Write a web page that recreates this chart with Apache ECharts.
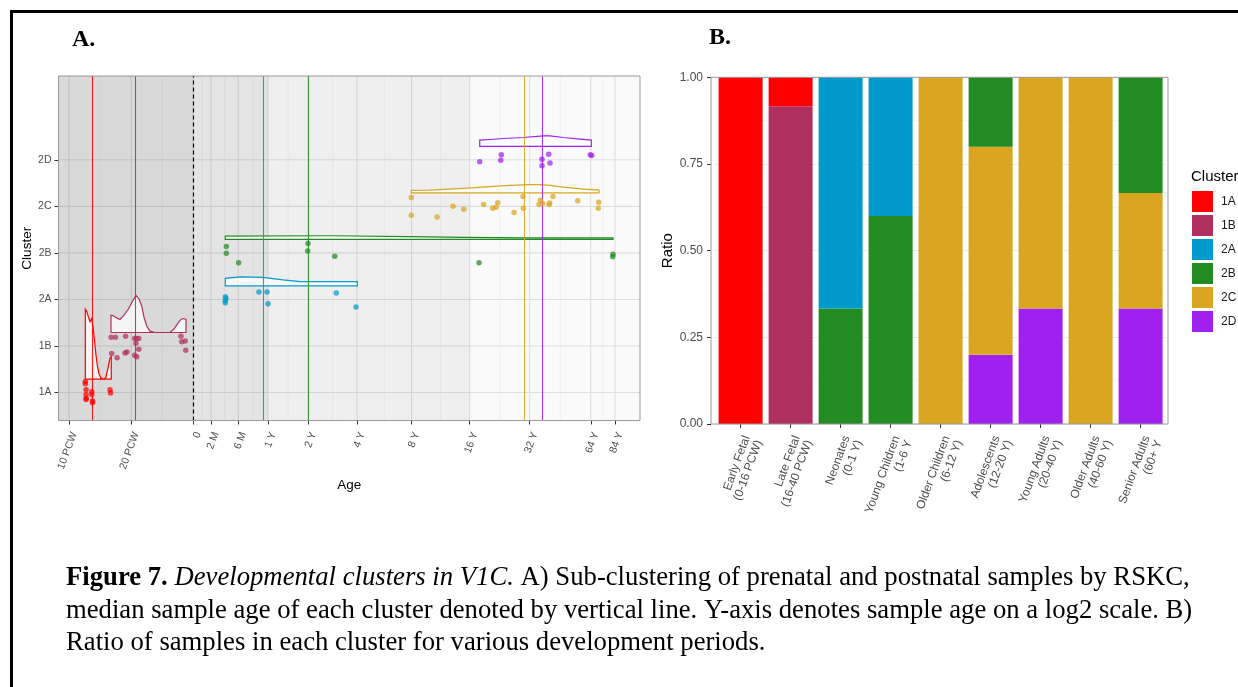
<!DOCTYPE html>
<html><head><meta charset="utf-8">
<script src="https://cdn.jsdelivr.net/npm/echarts@6/dist/echarts.min.js"></script>
<style>html,body{margin:0;padding:0;background:#fff;}#c{width:1238px;height:687px;}</style>
</head><body><div id="c"></div>
<script>
// ---------------- DATA ----------------
const clusterNames = ['1A','1B','2A','2B','2C','2D'];
const ageTickLabels = ['10 PCW','20 PCW','0','2 M','6 M','1 Y','2 Y','4 Y','8 Y','16 Y','32 Y','64 Y','84 Y'];
// ages in weeks post conception (birth = 40 PCW)
const ageTickWeeks = [10,20,40,48.7,66.09,92.18,144.36,248.71,457.43,874.86,1709.7,3379.4,4422.9];
const birthWeeks = 40;
const shadeBreakWeeks = [40,92.18,874.86];

// sample points: [age in weeks post conception, jittered cluster position]
const pts1A = [[12.0,1.24],[12.0,1.19],[12.1,1.06],[12.1,0.96],[12.1,0.88],[12.1,0.85],[12.9,1.02],[12.9,0.96],[13.0,0.82],[13.0,0.78],[15.8,1.06],[15.9,0.99]];
const pts1B = [[16.0,2.19],[16.8,2.19],[18.8,2.21],[20.8,2.16],[21.3,2.16],[21.8,2.16],[21.1,2.06],[16.1,1.84],[17.1,1.75],[18.7,1.85],[19.1,1.87],[21.8,1.93],[20.8,1.80],[21.3,1.77],[34.9,2.21],[35.2,2.09],[36.6,2.11],[36.8,1.91]];
const pts2A = [[57.2,3.06],[57.7,3.02],[57.2,2.97],[57.2,2.93],[83.3,3.16],[91.1,3.16],[92.2,2.91],[197.5,3.14],[246,2.84]];
const pts2B = [[57.9,4.14],[57.9,3.99],[66.4,3.79],[144,4.20],[143.5,4.04],[194,3.93],[971,3.79],[4332,3.97],[4318,3.92]];
const pts2C = [[456,5.19],[456,4.81],[608,4.77],[726,5.00],[819,4.94],[1023,5.04],[1131,4.96],[1174,4.98],[1196,5.08],[1435,4.87],[1586,5.21],[1592,4.96],[1924,5.13],[1896,5.04],[1977,5.06],[2121,5.04],[2137,5.07],[2217,5.21],[2921,5.12],[3692,5.09],[3676,4.96]];
const pts2D = [[978,5.96],[1245,6.11],[1237,5.99],[1961,6.01],[1961,5.87],[2113,6.12],[2144,5.93],[3362,6.11],[3415,6.09]];
const medianWeeks = [13.0,20.96,87.4,144.0,1604,1961];

// density ridges: [age in weeks, height above ridge baseline]
const ridge1A = [[12.0,1.50],[12.22,1.44],[12.43,1.33],[12.64,1.23],[12.88,1.30],[13.07,1.14],[13.29,0.84],[13.52,0.51],[13.74,0.28],[13.98,0.11],[14.29,0.02],[14.78,0],[15.11,0.04],[15.45,0.24],[15.80,0.45],[16.03,0.48]];
const ridge1B = [[15.98,0.37],[16.43,0.36],[16.90,0.32],[17.67,0.28],[18.48,0.375],[19.38,0.50],[20.20,0.65],[21.12,0.80],[21.84,0.72],[22.51,0.57],[23.09,0.33],[23.80,0.14],[24.69,0.03],[26.11,0],[30.87,0],[32.28,0.075],[33.87,0.21],[34.91,0.28],[35.81,0.30],[36.91,0.28]];
const ridge2A = [[57.2,0.165],[67.4,0.193],[87.2,0.186],[109.0,0.129],[131.7,0.092],[249.6,0.092]];
const ridge2B = [[57.2,0.071],[184.1,0.079],[449.5,0.058],[812,0.043],[1715,0.032],[4332,0.032]];
const ridge2C = [[456,0.054],[562,0.06],[815,0.096],[1098,0.133],[1372,0.161],[1715,0.176],[1918,0.176],[2144,0.161],[2487,0.124],[3110,0.081],[3705,0.06]];
const ridge2D = [[978.5,0.133],[1098,0.146],[1274,0.167],[1592,0.189],[1990,0.225],[2144,0.225],[2487,0.189],[2997,0.154],[3400,0.133]];
const ridgeOffset = 0.29;

// panel B
const periodLabels = ['Early Fetal\n(0-16 PCW)','Late Fetal\n(16-40 PCW)','Neonates\n(0-1 Y)','Young Children\n(1-6 Y','Older Children\n(6-12 Y)','Adolescents\n(12-20 Y)','Young Adults\n(20-40 Y)','Older Adults\n(40-60 Y)','Senior Adults\n(60+ Y'];
const ratio1A = [1,0.0833,0,0,0,0,0,0,0];
const ratio1B = [0,0.9167,0,0,0,0,0,0,0];
const ratio2A = [0,0,0.6667,0.4,0,0,0,0,0];
const ratio2B = [0,0,0.3333,0.6,0,0.2,0,0,0.3333];
const ratio2C = [0,0,0,0,1,0.6,0.6667,1,0.3333];
const ratio2D = [0,0,0,0,0,0.2,0.3333,0,0.3333];

// ---------------- STYLE / BUILD ----------------
const clusterColors = ['#FF0000','#B03060','#009ACD','#228B22','#DAA520','#A020F0'];
const shadeColors = ['rgba(0,0,0,0.148)','rgba(0,0,0,0.105)','rgba(0,0,0,0.062)','rgba(0,0,0,0.02)'];
const SANS = 'Liberation Sans, Arial, Helvetica, sans-serif';
const SERIF = 'Liberation Serif, Times New Roman, serif';
const L2 = Math.log2;
const xMin = 3.153, xMax = 12.515, yMin = 0.4, yMax = 7.8;
const xTickVals = ageTickWeeks.map(w => L2(w));
const yTickVals = clusterNames.map((n,i) => i+1);
const toXY = arr => arr.map(p => [L2(p[0]), p[1]]);
const allPts = [pts1A,pts1B,pts2A,pts2B,pts2C,pts2D];
const allRidges = [ridge1A,ridge1B,ridge2A,ridge2B,ridge2C,ridge2D];
const allRatios = [ratio1A,ratio1B,ratio2A,ratio2B,ratio2C,ratio2D];
const empty = {type:'group', children:[]};
const ln = (x1,y1,x2,y2,c,w) => ({type:'line', shape:{x1,y1,x2,y2}, style:{stroke:c, lineWidth:w}});

const series = [];
// panel A grid lines (under shading)
series.push({
  type:'custom', xAxisIndex:0, yAxisIndex:0, z:1, silent:true, data:[[xMin,yMin]],
  renderItem:(params, api) => {
    if (params.dataIndex !== 0) return empty;
    const ch = [];
    const top = api.coord([xMin,yMax])[1], bot = api.coord([xMin,yMin])[1];
    const left = api.coord([xMin,yMin])[0], right = api.coord([xMax,yMin])[0];
    xTickVals.forEach((v,i) => {
      const x = api.coord([v,yMin])[0];
      ch.push(ln(x,top,x,bot,'#e4e4e4',1.1));
      if (i < xTickVals.length-1) {
        const xm = api.coord([(v+xTickVals[i+1])/2,yMin])[0];
        ch.push(ln(xm,top,xm,bot,'#efefef',0.6));
      }
    });
    yTickVals.forEach(v => { const y = api.coord([xMin,v])[1]; ch.push(ln(left,y,right,y,'#e4e4e4',1.1)); });
    return {type:'group', children:ch};
  }
});
// shading
const shadeData = [];
const bounds = [xMin].concat(shadeBreakWeeks.map(w=>L2(w))).concat([xMax]);
for (let i=0;i<bounds.length-1;i++) shadeData.push([bounds[i],bounds[i+1],i]);
series.push({
  type:'custom', xAxisIndex:0, yAxisIndex:0, z:2, silent:true, data:shadeData,
  renderItem:(params, api) => {
    const p0 = api.coord([api.value(0), yMax]);
    const p1 = api.coord([api.value(1), yMin]);
    return {type:'rect', shape:{x:p0[0], y:p0[1], width:p1[0]-p0[0], height:p1[1]-p0[1]}, style:{fill:shadeColors[api.value(2)]}};
  }
});
// ridges
allRidges.forEach((r,k) => {
  const base = k+1+ridgeOffset;
  const data = r.map(p => [L2(p[0]), base+p[1]]);
  series.push({
    type:'custom', xAxisIndex:0, yAxisIndex:0, z:3, silent:true, data,
    renderItem:(params, api) => {
      if (params.dataIndex !== 0) return empty;
      const pts = [api.coord([data[0][0], base])];
      data.forEach(d => pts.push(api.coord(d)));
      pts.push(api.coord([data[data.length-1][0], base]));
      return {type:'polygon', shape:{points:pts}, style:{fill:'rgba(255,255,255,0.72)', stroke:clusterColors[k], lineWidth:1.2}};
    }
  });
});
// points + median lines
allPts.forEach((p,k) => {
  const mlData = [{xAxis: L2(medianWeeks[k])}];
  if (k === 0) mlData.push({xAxis: L2(birthWeeks), lineStyle:{color:'#000', type:[4,3], width:1.2, opacity:1}});
  series.push({
    type:'scatter', name:'pts'+clusterNames[k], xAxisIndex:0, yAxisIndex:0, z:5, silent:true,
    symbolSize:5.5, data: toXY(p), itemStyle:{color:clusterColors[k], opacity:0.72},
    markLine:{symbol:'none', silent:true, animation:false, label:{show:false},
      lineStyle:{color:clusterColors[k], width:1.1, type:'solid', opacity:0.9}, data:mlData}
  });
});
// bars (stack bottom -> top: 2D,2C,2B,2A,1B,1A)
[5,4,3,2,1,0].forEach(k => {
  series.push({type:'bar', name:clusterNames[k], xAxisIndex:1, yAxisIndex:1, stack:'r', barWidth:44,
    data: allRatios[k], itemStyle:{color:clusterColors[k]}, silent:true});
});

const option = {
  animation:false,
  backgroundColor:'#fff',
  grid:[
    {left:58.5, top:76, width:581.5, height:344.5},
    {left:715.6, top:77.3, width:450, height:346.7}
  ],
  xAxis:[
    {type:'value', gridIndex:0, min:xMin, max:xMax,
     axisLine:{show:false}, splitLine:{show:false},
     axisTick:{show:true, length:4, customValues:xTickVals, lineStyle:{color:'#333'}},
     axisLabel:{customValues:xTickVals, rotate:70, margin:10, verticalAlign:'top', fontSize:10.5, color:'#4d4d4d', fontFamily:SANS,
       formatter:v => { const i = xTickVals.findIndex(t => Math.abs(t-v) < 1e-6); return i>=0 ? ageTickLabels[i] : ''; }},
     name:'Age', nameLocation:'middle', nameGap:52, nameTextStyle:{fontSize:13.5, color:'#000', fontFamily:SANS}},
    {type:'category', gridIndex:1, data:periodLabels,
     axisLine:{show:false}, axisTick:{show:true, alignWithLabel:true, length:4, lineStyle:{color:'#333'}},
     axisLabel:{interval:0, rotate:70, margin:10, verticalAlign:'top', fontSize:12, color:'#4d4d4d', fontFamily:SANS, lineHeight:13}}
  ],
  yAxis:[
    {type:'value', gridIndex:0, min:yMin, max:yMax,
     axisLine:{show:false}, splitLine:{show:false},
     axisTick:{show:true, length:4, customValues:yTickVals, lineStyle:{color:'#333'}},
     axisLabel:{customValues:yTickVals, margin:7, fontSize:10.5, color:'#4d4d4d', fontFamily:SANS,
       formatter:v => clusterNames[Math.round(v)-1] || ''},
     name:'Cluster', nameLocation:'middle', nameGap:24, nameTextStyle:{fontSize:13.5, color:'#000', fontFamily:SANS}},
    {type:'value', gridIndex:1, min:0, max:1, interval:0.25, offset:4.6,
     axisLine:{show:false},
     axisTick:{show:true, length:4, lineStyle:{color:'#333'}},
     axisLabel:{margin:8, fontSize:12, color:'#4d4d4d', fontFamily:SANS, formatter:v => v.toFixed(2)},
     splitLine:{show:true, lineStyle:{color:'#ebebeb', width:1}},
     minorTick:{show:false, splitNumber:2},
     minorSplitLine:{show:true, lineStyle:{color:'#f4f4f4', width:0.6}},
     name:'Ratio', nameLocation:'middle', nameGap:31, nameTextStyle:{fontSize:15, color:'#000', fontFamily:SANS}}
  ],
  legend:{data:clusterNames, orient:'vertical', left:1192, top:191, itemWidth:21, itemHeight:21, itemGap:3,
    icon:'rect', selectedMode:false, padding:0,
    textStyle:{fontSize:12, color:'#1a1a1a', fontFamily:SANS, padding:[0,0,0,3]}},
  series,
  graphic:[
    {type:'line', z:200, shape:{x1:10, y1:11.5, x2:1238, y2:11.5}, style:{stroke:'#000', lineWidth:3}},
    {type:'line', z:200, shape:{x1:11.5, y1:10, x2:11.5, y2:687}, style:{stroke:'#000', lineWidth:3}},
    {type:'rect', z:150, shape:{x:58.5, y:76, width:581.5, height:344.5}, style:{fill:'none', stroke:'#9a9a9a', lineWidth:1}},
    {type:'rect', z:150, shape:{x:711, y:77.3, width:457, height:346.7}, style:{fill:'none', stroke:'#9a9a9a', lineWidth:1}},
    {type:'text', z:200, x:72, y:39.5, style:{text:'A.', fontFamily:SERIF, fontWeight:'bold', fontSize:24, fill:'#000', verticalAlign:'middle'}},
    {type:'text', z:200, x:709, y:38, style:{text:'B.', fontFamily:SERIF, fontWeight:'bold', fontSize:24, fill:'#000', verticalAlign:'middle'}},
    {type:'text', z:200, x:1191, y:177, style:{text:'Cluster', fontFamily:SANS, fontSize:15, fill:'#000', verticalAlign:'middle'}},
    {type:'text', z:200, x:66, y:578, scaleX:0.953, style:{
      text:'{b|Figure 7.} {i|Developmental clusters in V1C.} A) Sub-clustering of prenatal and postnatal samples by RSKC,',
      fontFamily:SERIF, fontSize:28, fill:'#000', verticalAlign:'middle',
      rich:{b:{fontFamily:SERIF, fontSize:28, fontWeight:'bold', fill:'#000'}, i:{fontFamily:SERIF, fontSize:28, fontStyle:'italic', fill:'#000'}}}},
    {type:'text', z:200, x:66, y:611, scaleX:0.953, style:{
      text:'median sample age of each cluster denoted by vertical line. Y-axis denotes sample age on a log2 scale. B)',
      fontFamily:SERIF, fontSize:28, fill:'#000', verticalAlign:'middle'}},
    {type:'text', z:200, x:66, y:643, scaleX:0.953, style:{
      text:'Ratio of samples in each cluster for various development periods.',
      fontFamily:SERIF, fontSize:28, fill:'#000', verticalAlign:'middle'}}
  ]
};
const chart = echarts.init(document.getElementById('c'), null, {renderer:'canvas'});
chart.setOption(option);
</script></body></html>
